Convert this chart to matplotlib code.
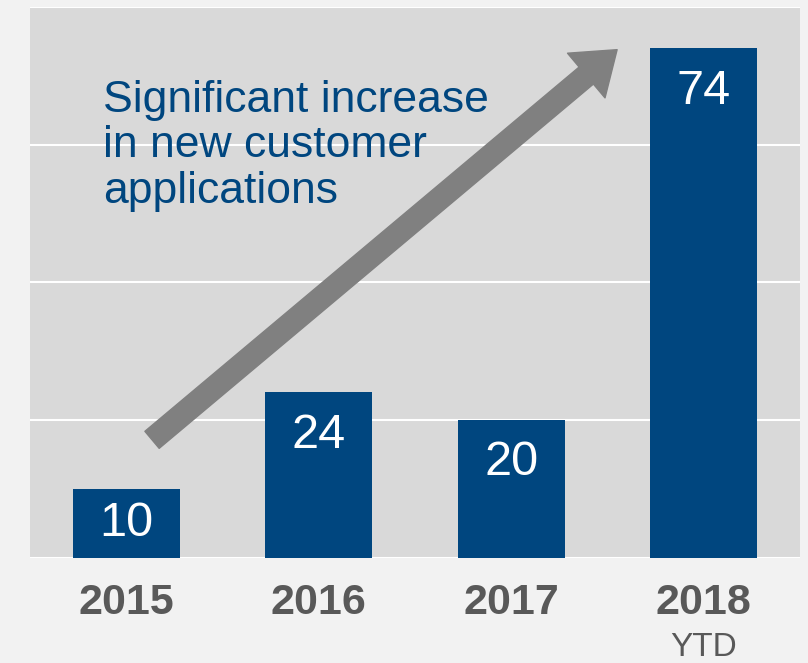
import matplotlib.pyplot as plt

years = ["2015", "2016", "2017", "2018"]
customers = [10, 24, 20, 74]
note = "Significant increase\nin new customer\napplications"

plt.rcParams['font.family'] = ['Liberation Sans', 'DejaVu Sans']

bar_color = "#00467f"
label_gray = "#595959"

fig = plt.figure(figsize=(8.08, 6.63), dpi=100, facecolor="#f2f2f2")
ax = fig.add_axes([30/808, 105.5/663, 770/808, 550.5/663])
ax.set_facecolor("#d9d9d9")

x = list(range(len(years)))
ax.bar(x, customers, width=0.555, color=bar_color, zorder=3)

for xi, v in zip(x, customers):
    ypos = max(v - 6.25, v / 2)
    ax.text(xi, ypos, str(v), ha="center", va="center", color="white",
            fontsize=35, zorder=4)

ax.set_xlim(-0.5, 3.5)
ax.set_ylim(0, 80)
ax.set_yticks([0, 20, 40, 60, 80])
ax.yaxis.grid(True, color="white", linewidth=1.5, zorder=1)
ax.tick_params(left=False, bottom=False, labelleft=False)
for s in ax.spines.values():
    s.set_visible(False)

ax.set_xticks(x)
ax.set_xticklabels(years, fontsize=31, fontweight="bold", color=label_gray)
ax.tick_params(axis="x", pad=15)
ax.text(3, -13.1, "YTD", ha="center", va="center", fontsize=24,
        color=label_gray, clip_on=False)

# big trend arrow
ax.annotate("", xy=(2.55, 73.8), xytext=(0.134, 17.1),
            arrowprops=dict(arrowstyle="simple,head_length=2.9,head_width=4.2,tail_width=1.6",
                            mutation_scale=10, color="#808080", shrinkA=0, shrinkB=0),
            zorder=2)

ax.text(0.0948, 0.868, note, transform=ax.transAxes, ha="left", va="top",
        fontsize=32, color=bar_color, linespacing=1.15)

fig.savefig("out.png", dpi=100, facecolor=fig.get_facecolor())
